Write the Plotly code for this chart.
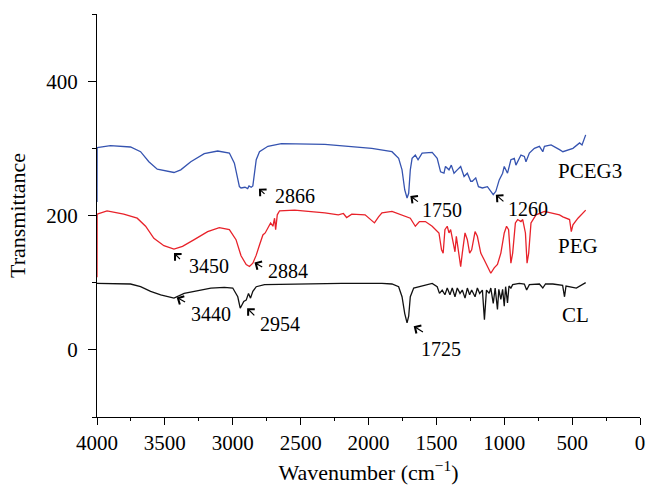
import plotly.graph_objects as go

# ---------------- data ----------------
pceg3_wn = [4000, 3999, 3901, 3753, 3679, 3618, 3556, 3433, 3383, 3309, 3210, 3111, 3025, 2988, 2951,
            2939, 2910, 2890, 2880, 2864, 2852, 2844, 2827, 2803, 2741, 2642, 2321, 1976, 1901, 1827,
            1778, 1753, 1733, 1716, 1704, 1692, 1679, 1655, 1635, 1605, 1531, 1494, 1469, 1444, 1433,
            1407, 1390, 1370, 1346, 1321, 1296, 1272, 1247, 1235, 1210, 1190, 1161, 1124, 1081, 1062,
            1037, 1012, 1000, 976, 951, 926, 914, 877, 852, 840, 815, 778, 741, 716, 704,
            655, 593, 568, 494, 445, 427, 400]
pceg3_t = [220, 301, 304, 302, 295, 280, 269, 264, 268, 280, 292, 296, 293, 278, 243,
           241, 242, 240, 244, 242, 244, 258, 283, 295, 303, 307, 306, 300, 298, 295,
           285, 268, 238, 226, 233, 268, 285, 290, 283, 293, 294, 285, 265, 263, 273,
           268, 275, 263, 268, 273, 258, 263, 251, 251, 256, 243, 241, 243, 231, 236,
           253, 263, 273, 263, 283, 285, 275, 290, 288, 280, 293, 300, 303, 295, 303,
           305, 298, 295, 300, 308, 305, 320]

peg_wn = [4000, 3999, 3926, 3803, 3704, 3642, 3581, 3507, 3433, 3370, 3284, 3185, 3099, 3025, 2976,
          2939, 2901, 2877, 2852, 2827, 2803, 2778, 2761, 2741, 2721, 2704, 2692, 2684, 2672, 2655,
          2544, 2444, 2321, 2222, 2185, 2161, 2123, 2025, 1988, 1956, 1926, 1901, 1827, 1753, 1692,
          1655, 1625, 1581, 1531, 1481, 1462, 1450, 1437, 1420, 1407, 1395, 1378, 1363, 1353, 1333,
          1321, 1309, 1289, 1272, 1255, 1240, 1235, 1215, 1198, 1173, 1148, 1124, 1099, 1074, 1050,
          1025, 1000, 983, 968, 951, 938, 918, 901, 877, 864, 844, 832, 820, 803, 766,
          704, 593, 568, 519, 506, 494, 457, 400]
peg_t = [108, 202, 207, 202, 196, 184, 166, 155, 150, 154, 164, 176, 182, 179, 164,
         140, 127, 124, 129, 141, 156, 171, 174, 181, 189, 184, 196, 179, 201, 207,
         208, 206, 204, 201, 203, 197, 202, 201, 194, 189, 198, 204, 206, 201, 196,
         184, 191, 191, 184, 174, 149, 144, 179, 184, 174, 179, 159, 146, 169, 144,
         124, 144, 174, 164, 144, 149, 154, 176, 169, 144, 134, 124, 114, 122, 127,
         144, 174, 184, 179, 129, 144, 189, 194, 191, 194, 174, 129, 144, 189, 201,
         206, 201, 198, 194, 176, 186, 196, 208]

cl_wn = [4000, 3901, 3753, 3679, 3605, 3531, 3433, 3358, 3259, 3161, 3062, 3000, 2963, 2945, 2919,
         2901, 2884, 2869, 2852, 2827, 2766, 2568, 2198, 1901, 1827, 1778, 1753, 1733, 1716, 1704,
         1692, 1667, 1630, 1581, 1531, 1494, 1477, 1457, 1437, 1420, 1400, 1383, 1363, 1346, 1326,
         1309, 1289, 1272, 1255, 1240, 1235, 1215, 1198, 1181, 1161, 1146, 1131, 1111, 1099, 1081,
         1067, 1050, 1040, 1025, 1012, 1000, 990, 976, 965, 951, 938, 889, 852, 835, 815,
         741, 716, 696, 642, 593, 570, 556, 545, 469, 400]
cl_t = [99, 99, 98, 94, 87, 82, 77, 84, 88, 92, 93, 92, 79, 62, 72,
        74, 84, 77, 87, 94, 97, 98, 99, 99, 98, 94, 79, 54, 40, 50,
        79, 92, 94, 97, 99, 94, 84, 89, 82, 92, 82, 92, 79, 92, 84,
        89, 77, 92, 82, 89, 87, 79, 92, 84, 89, 45, 89, 84, 92, 69,
        92, 60, 90, 75, 90, 65, 94, 70, 95, 92, 97, 99, 98, 89, 97,
        98, 92, 98, 98, 97, 96, 79, 95, 92, 100]

x_ticks = [4000, 3500, 3000, 2500, 2000, 1500, 1000, 500, 0]
y_ticks = [0, 200, 400]

# peak labels: text, arrow head (wn, T), arrow tail (wn, T), text left edge (wn, T)
peak_labels = ["2866", "3450", "2884", "3440", "2954", "1750", "1260", "1725"]
peak_head_wn = [2807, 3433, 2840, 3413, 2894, 1692, 1062, 1667]
peak_head_t = [240, 144, 130, 78, 62, 229, 231, 35]
peak_tail_wn = [2755, 3378, 2772, 3340, 2830, 1625, 995, 1588]
peak_tail_t = [230, 133, 122, 70, 49, 219, 219, 25]
peak_text_wn = [2701, 3338, 2753, 3321, 2815, 1618, 988, 1630]
peak_text_t = [229, 125, 118, 54, 39, 208, 209, 1]

series_names = ["PCEG3", "PEG", "CL"]
series_label_wn = [622, 622, 593]
series_label_t = [267, 155, 52]

# ---------------- figure ----------------
FONT = "Liberation Serif, Times New Roman, serif"
colors = ["#3553b0", "#e8222a", "#111111"]

fig = go.Figure()
for wn, t, c, n in zip([pceg3_wn, peg_wn, cl_wn], [pceg3_t, peg_t, cl_t], colors, series_names):
    fig.add_trace(go.Scatter(x=wn, y=t, mode="lines", name=n,
                             line=dict(color=c, width=1.3), showlegend=False))

for i, lab in enumerate(peak_labels):
    fig.add_annotation(x=peak_head_wn[i], y=peak_head_t[i], ax=peak_tail_wn[i], ay=peak_tail_t[i],
                       xref="x", yref="y", axref="x", ayref="y", text="", showarrow=True,
                       arrowhead=4, arrowsize=1.5, arrowwidth=1.2, arrowcolor="black", standoff=0)
    fig.add_annotation(x=peak_text_wn[i], y=peak_text_t[i], xref="x", yref="y", text=lab,
                       showarrow=False, xanchor="left", yanchor="middle",
                       font=dict(family=FONT, size=20, color="black"))

for n, xw, yt in zip(series_names, series_label_wn, series_label_t):
    fig.add_annotation(x=xw, y=yt, xref="x", yref="y", text=n, showarrow=False,
                       xanchor="left", yanchor="middle",
                       font=dict(family=FONT, size=21, color="black"))

fig.update_layout(
    width=658, height=499,
    margin=dict(l=97, r=18, t=14, b=82),
    paper_bgcolor="white", plot_bgcolor="white",
    font=dict(family=FONT, size=21, color="black"),
    xaxis=dict(range=[4000, 0], tickvals=x_ticks, ticks="outside", ticklen=7, tickwidth=1.3,
               tickcolor="black", showline=True, linecolor="black", linewidth=1.3,
               showgrid=False, zeroline=False, automargin=False,
               tickfont=dict(family=FONT, size=21),
               minor=dict(dtick=250, tick0=0, ticks="outside", ticklen=3, tickwidth=1.3, tickcolor="black"),
               title=dict(text="Wavenumber (cm<sup>−1</sup>)", font=dict(family=FONT, size=22), standoff=10)),
    yaxis=dict(range=[-100, 500], tickvals=y_ticks, ticks="outside", ticklen=8, tickwidth=1.3,
               tickcolor="black", showline=True, linecolor="black", linewidth=1.3,
               showgrid=False, zeroline=False, ticklabelstandoff=6, automargin=False,
               tickfont=dict(family=FONT, size=21),
               minor=dict(dtick=100, tick0=0, ticks="outside", ticklen=4, tickwidth=1.3, tickcolor="black"),
               title=dict(text="Transmittance", font=dict(family=FONT, size=22), standoff=14)),
)

fig.write_html("out.html", config={"displayModeBar": False},
               post_script="document.body.style.margin='0px';")
